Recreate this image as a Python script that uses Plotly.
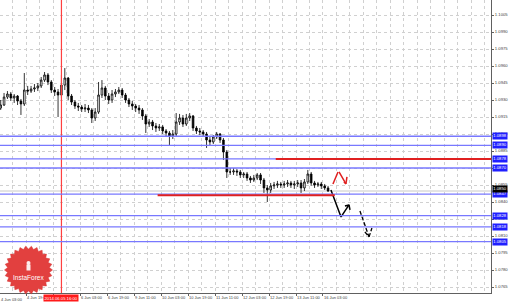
import numpy as np
import plotly.graph_objects as go

# ---------------- data ----------------
bar_index = list(range(1, 196, 2))  # hours since 4 Jun 03:00 (trading hours)

opens = [1.09229,1.09256,1.09326,1.09353,1.09318,1.09335,1.09291,1.09265,1.09388,1.09379,
         1.09397,1.09406,1.09424,1.09476,1.09521,1.09459,1.09388,1.09371,1.09344,1.09432,
         1.09494,1.09335,1.09282,1.09247,1.09238,1.09221,1.09229,1.09212,1.09141,1.09194,
         1.09344,1.09406,1.09335,1.09300,1.09353,1.09371,1.09388,1.09344,1.09300,1.09265,
         1.09247,1.09229,1.09212,1.09159,1.09088,1.09106,1.09071,1.09053,1.09062,1.09027,
         1.09009,1.08983,1.09000,1.09106,1.09141,1.09088,1.09141,1.09159,1.09053,1.09027,
         1.09018,1.09000,1.08947,1.08930,1.08974,1.09000,1.08947,1.08841,1.08665,1.08665,
         1.08674,1.08665,1.08639,1.08647,1.08612,1.08594,1.08612,1.08639,1.08594,1.08524,
         1.08506,1.08542,1.08550,1.08559,1.08550,1.08559,1.08568,1.08550,1.08559,1.08568,
         1.08524,1.08577,1.08647,1.08568,1.08550,1.08559,1.08542,1.08524]

highs = [1.09300,1.09362,1.09379,1.09371,1.09353,1.09344,1.09309,1.09538,1.09424,1.09424,
         1.09441,1.09450,1.09503,1.09547,1.09538,1.09476,1.09415,1.09397,1.09521,1.09582,
         1.09503,1.09353,1.09300,1.09274,1.09256,1.09265,1.09256,1.09229,1.09229,1.09459,
         1.09476,1.09424,1.09362,1.09388,1.09397,1.09415,1.09406,1.09362,1.09318,1.09291,
         1.09265,1.09256,1.09229,1.09177,1.09132,1.09124,1.09097,1.09088,1.09080,1.09044,
         1.09027,1.09035,1.09185,1.09177,1.09168,1.09177,1.09185,1.09168,1.09071,1.09053,
         1.09035,1.09018,1.08974,1.08991,1.09018,1.09009,1.08965,1.08859,1.08700,1.08700,
         1.08691,1.08683,1.08665,1.08665,1.08630,1.08639,1.08656,1.08656,1.08612,1.08550,
         1.08568,1.08577,1.08586,1.08577,1.08586,1.08594,1.08586,1.08586,1.08594,1.08594,
         1.08603,1.08683,1.08665,1.08586,1.08577,1.08577,1.08559,1.08542]

lows = [1.09212,1.09247,1.09309,1.09291,1.09274,1.09256,1.09168,1.09247,1.09344,1.09362,
        1.09371,1.09379,1.09406,1.09459,1.09432,1.09362,1.09335,1.09150,1.09318,1.09388,
        1.09300,1.09256,1.09221,1.09203,1.09194,1.09194,1.09185,1.09097,1.09115,1.09177,
        1.09318,1.09300,1.09265,1.09274,1.09326,1.09353,1.09318,1.09274,1.09238,1.09212,
        1.09194,1.09177,1.09124,1.09009,1.09062,1.09035,1.09018,1.09027,1.09000,1.08974,
        1.08903,1.08956,1.08983,1.09080,1.09062,1.09071,1.09115,1.09027,1.09000,1.08991,
        1.08974,1.08877,1.08894,1.08912,1.08956,1.08921,1.08771,1.08612,1.08639,1.08639,
        1.08630,1.08612,1.08612,1.08586,1.08568,1.08577,1.08594,1.08559,1.08480,1.08400,
        1.08480,1.08515,1.08524,1.08524,1.08524,1.08533,1.08524,1.08515,1.08533,1.08480,
        1.08497,1.08559,1.08542,1.08524,1.08533,1.08515,1.08506,1.08489]

closes = [1.09256,1.09326,1.09353,1.09318,1.09335,1.09291,1.09265,1.09388,1.09379,1.09397,
          1.09406,1.09424,1.09476,1.09521,1.09459,1.09388,1.09371,1.09344,1.09432,1.09494,
          1.09335,1.09282,1.09247,1.09238,1.09221,1.09229,1.09212,1.09141,1.09194,1.09344,
          1.09406,1.09335,1.09300,1.09353,1.09371,1.09388,1.09344,1.09300,1.09265,1.09247,
          1.09229,1.09212,1.09159,1.09088,1.09106,1.09071,1.09053,1.09062,1.09027,1.09009,
          1.08983,1.09000,1.09106,1.09141,1.09088,1.09141,1.09159,1.09053,1.09027,1.09018,
          1.09000,1.08947,1.08930,1.08974,1.09000,1.08947,1.08841,1.08665,1.08665,1.08674,
          1.08665,1.08639,1.08647,1.08612,1.08594,1.08612,1.08639,1.08594,1.08524,1.08506,
          1.08542,1.08550,1.08559,1.08550,1.08559,1.08568,1.08550,1.08559,1.08568,1.08524,
          1.08577,1.08647,1.08568,1.08550,1.08559,1.08542,1.08524,1.08497]

# the 5 Jun 11:00 label (bar 32) is hidden under the red time marker in the reference
time_tick_index = [16, 32, 48, 64, 80, 96, 112, 128, 144, 160, 176, 192]
time_tick_labels = ["4 Jun 19:00", "", "6 Jun 03:00", "6 Jun 19:00", "9 Jun 11:00",
                    "10 Jun 03:00", "10 Jun 19:00", "11 Jun 11:00", "12 Jun 03:00",
                    "12 Jun 19:00", "13 Jun 11:00", "16 Jun 03:00"]
first_time_label = "4 Jun 03:00"

price_ticks = [1.0765, 1.0780, 1.0795, 1.0810, 1.0825, 1.0840, 1.0855, 1.0870, 1.0885,
               1.0900, 1.0915, 1.0930, 1.0945, 1.0960, 1.0975, 1.0990, 1.1005]
# labels fully covered by level boxes in the reference
price_ticks_hidden = [1.0870]

blue_levels = [1.0898, 1.0890, 1.0878, 1.0870, 1.0847, 1.0828, 1.0818, 1.0805]
red_levels = [1.0878, 1.0846]
red_level_from = [164, 94]
red_level_to = [292, 199]

marker_bar = 37
marker_label = "2014.06.05 16:00"

# forecast drawings (bar index, price); None separates strokes
fc_black_x = [196.7, 202.7, 207.4, 205.0, None, 207.4, 208.0]
fc_black_y = [1.08506, 1.08268, 1.08374, 1.08365, None, 1.08374, 1.08330]
fc_dash_x = [213.9, 219.3, 216.3, None, 219.3, 221.0]
fc_dash_y = [1.08321, 1.08092, 1.08145, None, 1.08092, 1.08171]
fc_red_x = [197.9, 200.9, None, 201.5, 205.6, 204.4, None, 205.6, 206.2]
fc_red_y = [1.08559, 1.08665, None, 1.08665, 1.08559, 1.08577, None, 1.08559, 1.08621]

X_RANGE = [0.593, 291.56]
Y_RANGE = [1.075971, 1.101824]

FONT = "Liberation Sans"
BLUE_LINE = "#7878ff"
BLUE_BOX = "#1f1fff"
RED = "#e02020"

fig = go.Figure()

fig.add_trace(go.Candlestick(
    x=bar_index, open=opens, high=highs, low=lows, close=closes,
    increasing=dict(line=dict(color="black", width=0.8), fillcolor="white"),
    decreasing=dict(line=dict(color="black", width=0.8), fillcolor="black"),
    whiskerwidth=0, showlegend=False, hoverinfo="skip"))

# red time marker drawn as a trace spanning the full price range
fig.add_trace(go.Scatter(x=[marker_bar, marker_bar], y=Y_RANGE, mode="lines",
                         line=dict(color="#ff4040", width=1.2),
                         showlegend=False, hoverinfo="skip", cliponaxis=True))

shapes = []
# bid line
shapes.append(dict(type="line", xref="paper", x0=0, x1=1, yref="y", y0=closes[-1], y1=closes[-1],
                   line=dict(color="#c8c8c8", width=1), layer="below"))
for lv in blue_levels:
    shapes.append(dict(type="line", xref="paper", x0=0, x1=1, yref="y", y0=lv, y1=lv,
                       line=dict(color=BLUE_LINE, width=1.3)))
for lv, a, b in zip(red_levels, red_level_from, red_level_to):
    shapes.append(dict(type="line", xref="x", x0=a, x1=b, yref="y", y0=lv, y1=lv,
                       line=dict(color=RED, width=2)))

# InstaForex logo (decoration)
cx, cy, R, r_in, n = 28.5, 270.0, 24.0, 21.0, 26
W, H = 491.0, 293.0
pts = []
for j in range(2 * n):
    rr = R if j % 2 == 0 else r_in
    ang = np.pi * j / n
    px = cx + rr * np.cos(ang)
    py = cy + rr * np.sin(ang)
    pts.append((px / W, 1 - py / H))
path = "M " + " L ".join(f"{p[0]:.5f},{p[1]:.5f}" for p in pts) + " Z"
shapes.append(dict(type="path", xref="paper", yref="paper", path=path,
                   fillcolor="#e2403f", line=dict(color="#d83535", width=0.5)))
# small white icon
ip = [(26.5, 264.5), (30.5, 264.5), (30.5, 270.5), (26.5, 270.5)]
shapes.append(dict(type="path", xref="paper", yref="paper",
                   path="M " + " L ".join(f"{x / W:.5f},{1 - y / H:.5f}" for x, y in ip) + " Z",
                   fillcolor="rgba(255,255,255,0.9)", line=dict(width=0)))
shapes.append(dict(type="circle", xref="paper", yref="paper",
                   x0=26.5 / W, x1=30.5 / W, y0=1 - 265.0 / H, y1=1 - 261.0 / H,
                   fillcolor="rgba(255,255,255,0.9)", line=dict(width=0)))

fig.add_trace(go.Scatter(x=fc_red_x, y=fc_red_y, mode="lines", line=dict(color=RED, width=1.5),
                         showlegend=False, hoverinfo="skip"))
fig.add_trace(go.Scatter(x=fc_black_x, y=fc_black_y, mode="lines", line=dict(color="black", width=1.5),
                         showlegend=False, hoverinfo="skip"))
fig.add_trace(go.Scatter(x=fc_dash_x, y=fc_dash_y, mode="lines",
                         line=dict(color="black", width=1.3, dash="4px,2px"),
                         showlegend=False, hoverinfo="skip"))

annotations = []
for lv in blue_levels:
    annotations.append(dict(x=1, xref="paper", y=lv, yref="y", xanchor="left", yanchor="middle",
                            xshift=1, text=f"{lv:.4f}", showarrow=False, bgcolor=BLUE_BOX,
                            borderpad=0.3, font=dict(family=FONT, size=4.2, color="white")))
annotations.append(dict(x=1, xref="paper", y=closes[-1], yref="y", xanchor="left", yanchor="middle",
                        xshift=1, yshift=2, text=f"{closes[-1]:.4f}", showarrow=False, bgcolor="black",
                        borderpad=0.3, font=dict(family=FONT, size=4.2, color="white")))
annotations.append(dict(x=marker_bar, xref="x", y=0, yref="paper", yanchor="top", xanchor="center",
                        yshift=-1, text=marker_label, showarrow=False, bgcolor="#ff1a1a",
                        borderpad=0.5, font=dict(family=FONT, size=4.2, color="white")))
annotations.append(dict(x=-0.003, xref="paper", y=0, yref="paper", yanchor="top", xanchor="left",
                        yshift=-2, text=first_time_label, showarrow=False,
                        font=dict(family=FONT, size=4, color="#404040")))
annotations.append(dict(x=cx / W, xref="paper", y=1 - 277.5 / H, yref="paper", xanchor="center",
                        yanchor="middle", text="InstaForex", showarrow=False,
                        font=dict(family=FONT, size=6.5, color="white")))

fig.update_layout(
    width=510, height=302,
    margin=dict(l=0, r=19, t=0, b=9),
    paper_bgcolor="white", plot_bgcolor="white",
    shapes=shapes, annotations=annotations,
    showlegend=False,
    xaxis=dict(range=X_RANGE, type="linear", rangeslider=dict(visible=False),
               tickvals=time_tick_index, ticktext=time_tick_labels,
               ticklabelposition="outside right", tickangle=0, automargin=False,
               ticks="outside", ticklen=2, tickcolor="#606060",
               tickfont=dict(family=FONT, size=4, color="#404040"),
               showgrid=True, gridcolor="#d0d0d0", griddash="dot", gridwidth=1,
               minor=dict(dtick=8, tick0=0, showgrid=True, gridcolor="#d0d0d0", griddash="dot"),
               showline=True, linecolor="#606060", linewidth=1, zeroline=False,
               fixedrange=True),
    yaxis=dict(range=Y_RANGE, side="right", tickvals=price_ticks, automargin=False,
               ticktext=["" if v in price_ticks_hidden else f"{v:.4f}" for v in price_ticks],
               ticks="outside", ticklen=2, tickcolor="#606060",
               tickfont=dict(family=FONT, size=4.2, color="#404040"),
               showgrid=True, gridcolor="#d0d0d0", griddash="dot", gridwidth=1,
               showline=True, linecolor="#606060", linewidth=1, zeroline=False,
               fixedrange=True),
)

fig.write_html("out.html")
